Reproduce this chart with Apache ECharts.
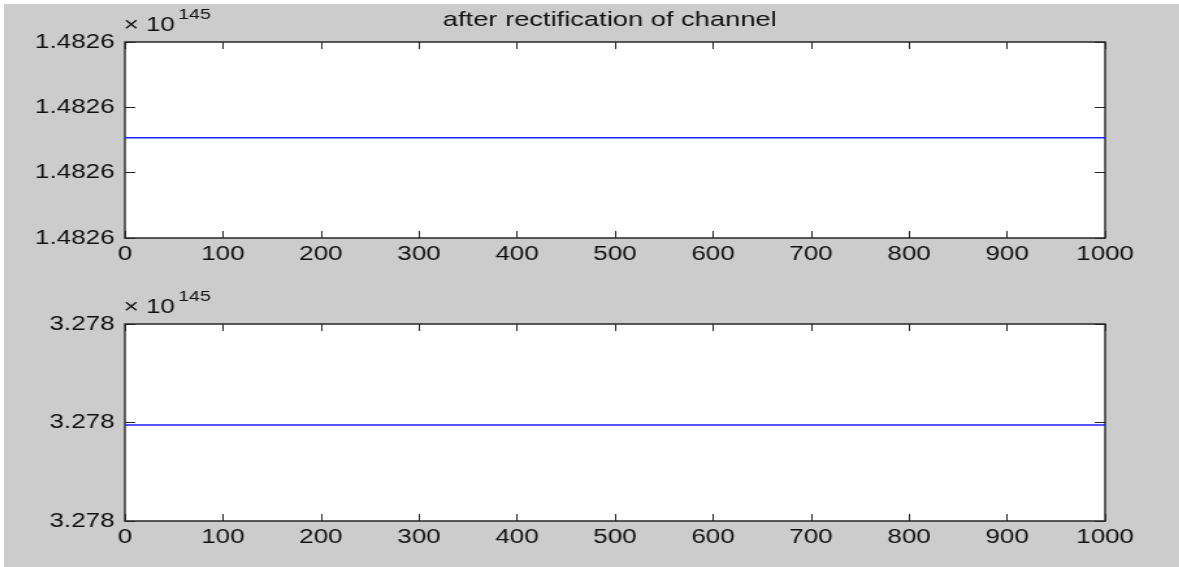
<!DOCTYPE html>
<html>
<head>
<meta charset="utf-8">
<script src="https://cdn.jsdelivr.net/npm/echarts@6/dist/echarts.min.js"></script>
<style>
  html, body { margin: 0; padding: 0; background: #ffffff; overflow: hidden; }
  #fig { position: absolute; left: 4px; top: 4px; width: 1175px; height: 563px; background: #cccccc; overflow: hidden; }
  /* the figure is laid out narrow and widened as a whole, giving the broad glyphs of the original figure window */
  #chart { position: absolute; left: 0; top: 0; width: 904px; height: 563px; transform: scaleX(1.3); transform-origin: 0 0; }
</style>
</head>
<body>
<div id="fig"><div id="chart"></div></div>
<script>
// sample positions along the channel
const xTicks = [0, 100, 200, 300, 400, 500, 600, 700, 800, 900, 1000];

// y tick labels (values shown relative to the common x 10^145 factor)
const topTickLabels = ['1.4826', '1.4826', '1.4826', '1.4826'];
const bottomTickLabels = ['3.278', '3.278', '3.278'];
const exponent = '145';

// signal levels, in tick steps above the lowest tick
const topValues = [1.535, 1.535, 1.535, 1.535, 1.535, 1.535, 1.535, 1.535, 1.535, 1.535, 1.535];
const bottomValues = [0.975, 0.975, 0.975, 0.975, 0.975, 0.975, 0.975, 0.975, 0.975, 0.975, 0.975];

const titleText = 'after rectification of channel';

const FONT = '"Liberation Sans", Arial, sans-serif';
const INK = '#111111';
const FRAME = '#262626';

const grids = [
  { left: 93, top: 38, width: 754, height: 196 },
  { left: 93, top: 320, width: 754, height: 197 }
];

const xAxes = [];
const yAxes = [];
grids.forEach(function (g, i) {
  const labels = i === 0 ? topTickLabels : bottomTickLabels;
  ['bottom', 'top'].forEach(function (pos) {
    xAxes.push({
      gridIndex: i, type: 'value', position: pos,
      min: 0, max: 1000, interval: 100,
      axisLine: { show: false, onZero: false },
      axisTick: { show: true, inside: true, length: 7, lineStyle: { color: FRAME, width: 1 } },
      axisLabel: {
        show: pos === 'bottom', fontSize: 20, fontFamily: FONT, color: INK, margin: 6,
        formatter: function (v) { return String(v); }
      },
      splitLine: { show: false }
    });
  });
  ['left', 'right'].forEach(function (pos) {
    yAxes.push({
      gridIndex: i, type: 'value', position: pos,
      min: 0, max: labels.length - 1, interval: 1,
      axisLine: { show: false, onZero: false },
      axisTick: { show: true, inside: true, length: 8, lineStyle: { color: FRAME, width: 1 } },
      axisLabel: {
        show: pos === 'left', fontSize: 20, fontFamily: FONT, color: INK, margin: 8,
        formatter: function (v) { return labels[Math.round(v)]; }
      },
      splitLine: { show: false }
    });
  });
});

function levelSeries(values, axisIdx) {
  return {
    type: 'line',
    xAxisIndex: axisIdx, yAxisIndex: axisIdx,
    data: xTicks.map(function (x, k) { return [x, values[k]]; }),
    showSymbol: false,
    lineStyle: { color: '#1f1fff', width: 1.5 },
    silent: true
  };
}

// exponent annotations above each axes box
const graphics = [];
grids.forEach(function (g) {
  graphics.push({
    type: 'text', x: g.left - 1, y: g.top - 17,
    style: { text: '× 10', font: '20px ' + FONT, fill: INK, textAlign: 'left', textVerticalAlign: 'middle' }
  });
  graphics.push({
    type: 'text', x: g.left + 41, y: g.top - 27,
    style: { text: exponent, font: '15px ' + FONT, fill: INK, textAlign: 'left', textVerticalAlign: 'middle' }
  });
});
graphics.push({
  type: 'text', x: grids[0].left + 373, y: 16,
  style: { text: titleText, font: '21px ' + FONT, fill: INK, textAlign: 'center', textVerticalAlign: 'middle' }
});

const chart = echarts.init(document.getElementById('chart'));
chart.setOption({
  animation: false,
  backgroundColor: 'transparent',
  grid: grids.map(function (g) {
    return Object.assign({ show: true, backgroundColor: '#ffffff', borderColor: FRAME, borderWidth: 1.4, containLabel: false }, g);
  }),
  xAxis: xAxes,
  yAxis: yAxes,
  series: [levelSeries(topValues, 0), levelSeries(bottomValues, 2)],
  graphic: graphics
});
</script>
</body>
</html>
